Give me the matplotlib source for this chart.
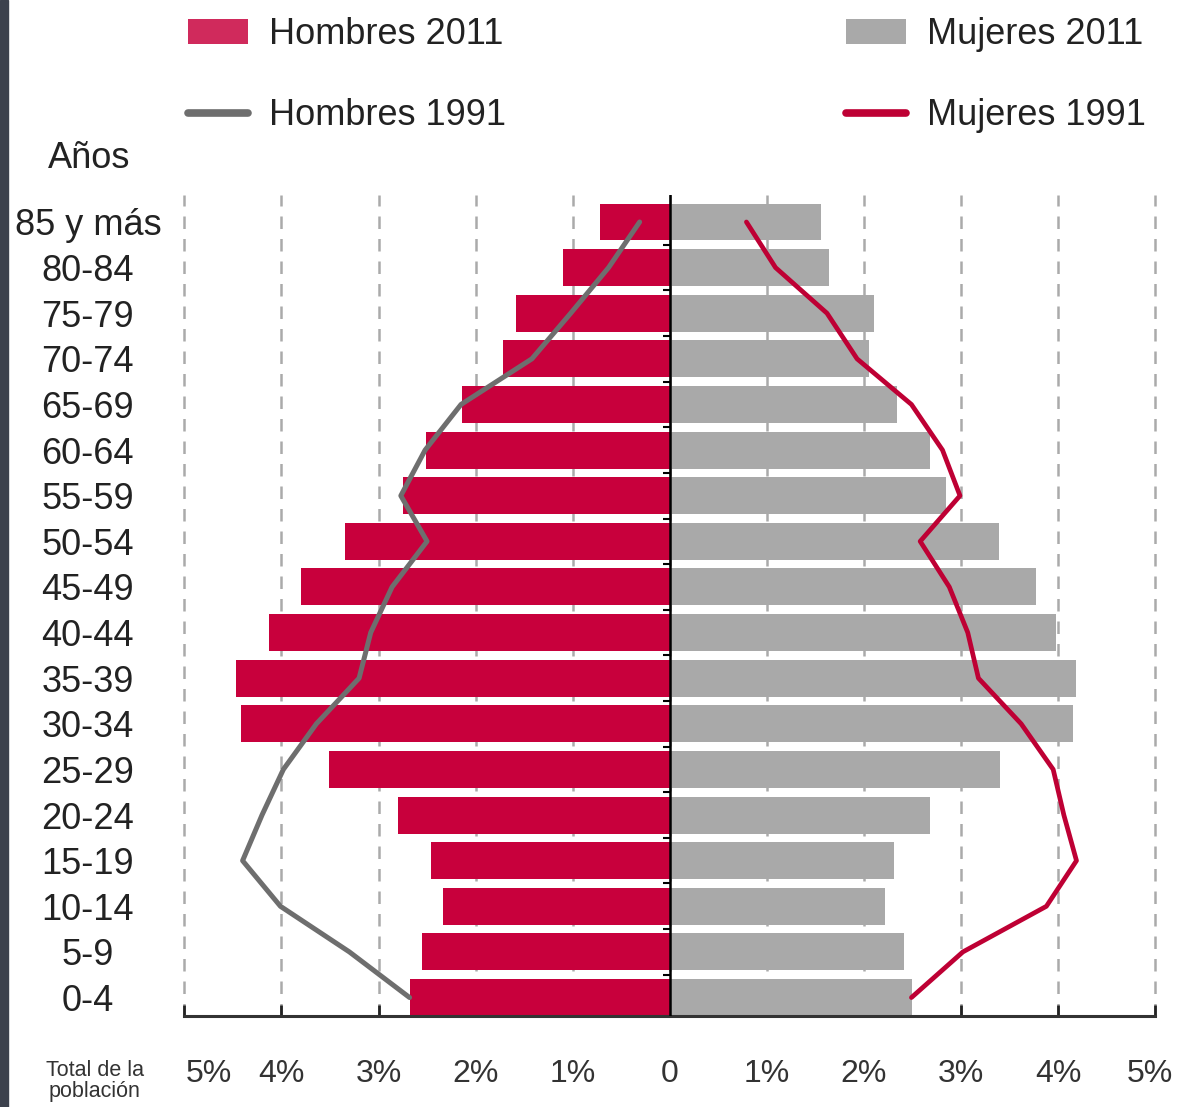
import numpy as np
import matplotlib
matplotlib.use("Agg")
import matplotlib.pyplot as plt
import matplotlib.transforms as mtransforms
from matplotlib.patches import Rectangle

plt.rcParams['font.family'] = ['Liberation Sans', 'DejaVu Sans']

# grupos de edad, de menor a mayor
grupos = ['0-4', '5-9', '10-14', '15-19', '20-24', '25-29', '30-34', '35-39',
          '40-44', '45-49', '50-54', '55-59', '60-64', '65-69', '70-74',
          '75-79', '80-84', '85 y más']

# % del total de la población
hombres_2011 = [2.68, 2.55, 2.34, 2.46, 2.80, 3.51, 4.42, 4.47, 4.13, 3.80,
                3.35, 2.75, 2.51, 2.14, 1.72, 1.58, 1.10, 0.72]
mujeres_2011 = [2.50, 2.41, 2.22, 2.31, 2.68, 3.40, 4.15, 4.18, 3.98, 3.77,
                3.39, 2.85, 2.68, 2.34, 2.05, 2.10, 1.64, 1.56]
hombres_1991 = [2.68, 3.30, 4.01, 4.40, 4.20, 3.98, 3.64, 3.20, 3.08, 2.86,
                2.50, 2.77, 2.52, 2.15, 1.42, 1.02, 0.63, 0.31]
mujeres_1991 = [2.49, 3.02, 3.88, 4.19, 4.06, 3.95, 3.62, 3.18, 3.07, 2.88,
                2.58, 2.99, 2.81, 2.49, 1.93, 1.62, 1.09, 0.79]

xticks = [-5, -4, -3, -2, -1, 0, 1, 2, 3, 4, 5]
xlabels = ['5%', '4%', '3%', '2%', '1%', '0', '1%', '2%', '3%', '4%', '5%']

rojo = '#C8003C'
rojo_linea = '#BE0034'
gris = '#A9A9A9'
gris_linea = '#6E6E6E'

fig = plt.figure(figsize=(11.84, 11.07), dpi=100)
ax = fig.add_axes([0.1516, 0.0822, 0.8281, 0.742])

y = np.arange(len(grupos))
b_h = ax.barh(y, -np.array(hombres_2011), height=0.81, color=rojo, zorder=2)
b_m = ax.barh(y, mujeres_2011, height=0.81, color=gris, zorder=2)
l_h, = ax.plot(-np.array(hombres_1991), y, color=gris_linea, lw=3.6, zorder=4,
               solid_joinstyle='round', solid_capstyle='round')
l_m, = ax.plot(mujeres_1991, y, color=rojo_linea, lw=3.4, zorder=4,
               solid_joinstyle='round', solid_capstyle='round')

# eje central
ax.axvline(0, color='black', lw=1.8, zorder=5)
ax.plot(np.zeros(len(grupos) - 1), y[:-1] + 0.5, linestyle='none',
        marker=0, markersize=5, mew=1.5, color='black', zorder=5)

ax.set_xlim(-5.05, 5.05)
ax.set_ylim(-0.405, 17.6)

for s in ['left', 'right', 'top']:
    ax.spines[s].set_visible(False)
ax.spines['bottom'].set_bounds(-5, 5)
ax.spines['bottom'].set_linewidth(2.2)
ax.spines['bottom'].set_color('#333333')

ax.set_xticks(xticks, xlabels)
ax.tick_params(axis='x', direction='in', length=8, width=2, color='#222222',
               pad=31, labelsize=23, labelcolor='#333333')
ax.xaxis.grid(True, linestyle=(0, (5, 4)), color='#AAAAAA', lw=1.8)
ax.set_axisbelow(True)

tl = ax.get_xticklabels()
tl[0].set_transform(tl[0].get_transform() +
                    mtransforms.ScaledTranslation(25 / 100, 0, fig.dpi_scale_trans))
tl[-1].set_transform(tl[-1].get_transform() +
                     mtransforms.ScaledTranslation(-5 / 100, 0, fig.dpi_scale_trans))

ax.set_yticks(y, grupos)
ax.tick_params(axis='y', length=0, pad=66, labelsize=26, labelcolor='#222222')
for t in ax.get_yticklabels():
    t.set_horizontalalignment('center')

fig.text(89 / 1184, 1 - 158 / 1107, 'Años', ha='center', va='center',
         fontsize=26, color='#222222')
fig.text(95 / 1184, 1 - 1081 / 1107, 'Total de la\npoblación', ha='center',
         va='center', fontsize=15.5, color='#333333', linespacing=0.95)

# leyenda en dos bloques
ley = []
for handles, labels, x0 in [([b_h, l_h], ['Hombres 2011', 'Hombres 1991'], 188),
                            ([b_m, l_m], ['Mujeres 2011', 'Mujeres 1991'], 846)]:
    lg = fig.legend(handles, labels, loc='upper left',
                    bbox_to_anchor=(x0 / 1184, 1 - 17 / 1107), frameon=False,
                    fontsize=26, handlelength=1.65, handletextpad=0.6,
                    labelspacing=1.28, borderpad=0, borderaxespad=0)
    for t in lg.get_texts():
        t.set_color('#222222')
    for ln in lg.get_lines():
        ln.set_linewidth(5.5)
        ln.set_solid_capstyle('round')
    ley.append(lg)
ley[0].get_patches()[0].set_facecolor('#D02A5C')

# franja oscura del borde izquierdo
fig.add_artist(Rectangle((0, 0), 8 / 1184, 1, transform=fig.transFigure,
                         color='#3C414D', zorder=10))

fig.savefig('out.png', dpi=100)
